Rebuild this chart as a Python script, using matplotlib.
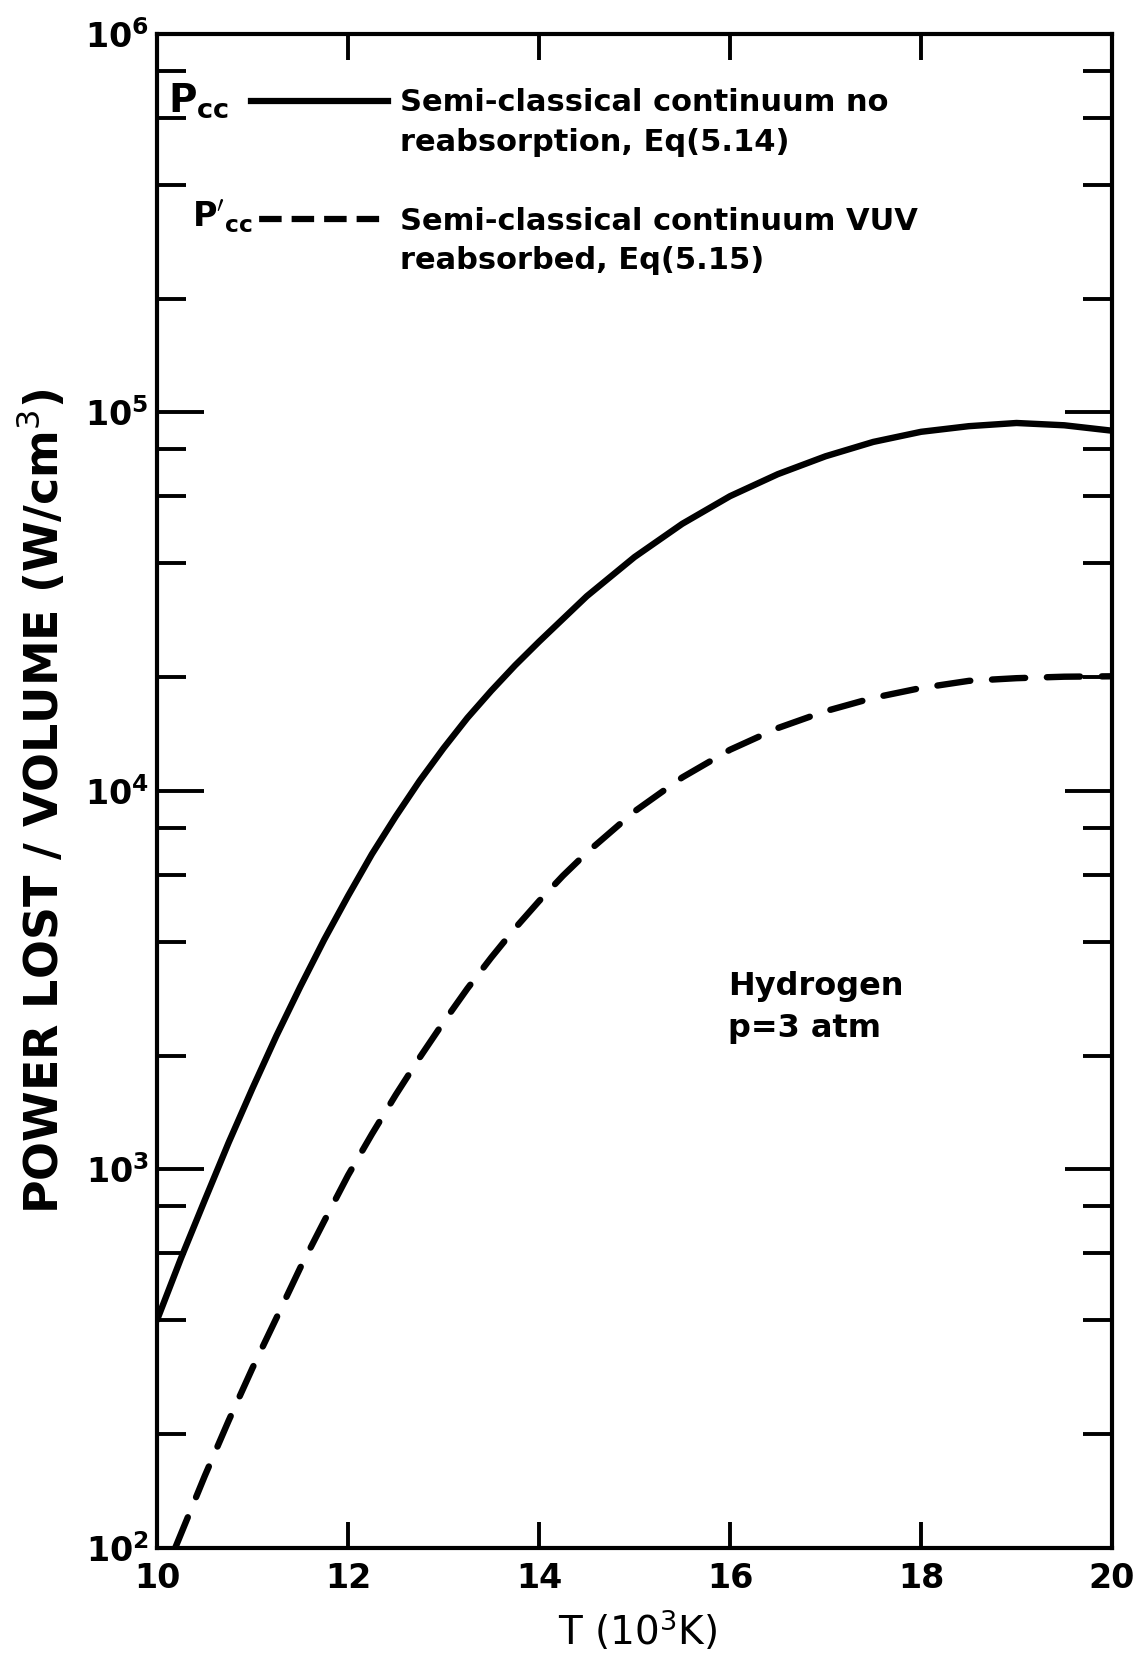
import math
import matplotlib
matplotlib.use("Agg")
import matplotlib.pyplot as plt
from matplotlib.lines import Line2D
from matplotlib.ticker import FixedLocator, LogLocator, FuncFormatter, NullFormatter

plt.rcParams['font.family'] = ['DejaVu Sans']
plt.rcParams['mathtext.fontset'] = 'dejavusans'

# temperature in 10^3 K
t_solid = [10, 10.25, 10.5, 10.75, 11, 11.25, 11.5, 11.75, 12, 12.25, 12.5, 12.75,
           13, 13.25, 13.5, 13.75, 14, 14.5, 15, 15.5, 16, 16.5, 17, 17.5,
           18, 18.5, 19, 19.5, 20]
p_cc = [400, 582, 830, 1178, 1640, 2255, 3040, 4045, 5280, 6810, 8570, 10640,
        12970, 15600, 18400, 21480, 24800, 32700, 41500, 50800, 60100, 68700,
        76600, 83600, 88900, 92000, 93800, 92500, 89500]

t_dash = [10.19, 10.5, 10.75, 11, 11.25, 11.5, 11.75, 12, 12.25, 12.5, 12.75,
          13, 13.25, 13.5, 13.75, 14, 14.25, 14.5, 15, 15.5, 16, 16.5, 17,
          17.5, 18, 18.5, 19, 19.5, 20]
p_cc_prime = [100, 155, 217, 299, 405, 550, 730, 965, 1240, 1575, 1975, 2449,
              3006, 3631, 4341, 5117, 5970, 6871, 8831, 10860, 12850, 14660,
              16250, 17620, 18710, 19540, 19860, 20040, 20090]

x_ticks = [10, 12, 14, 16, 18, 20]
legend_rows = ["Semi-classical continuum no", "reabsorption, Eq(5.14)", "",
               "Semi-classical continuum VUV", "reabsorbed, Eq(5.15)"]

fig = plt.figure(figsize=(11.33, 16.57), dpi=100)
ax = fig.add_axes([0.1386, 0.0658, 0.8429, 0.9137])

ax.plot(t_solid, p_cc, color='black', lw=4.6, solid_capstyle='round')
ax.plot(t_dash, p_cc_prime, color='black', lw=4.6, dashes=(5.2, 3.4),
        dash_capstyle='round')

ax.set_yscale('log')
ax.set_xlim(10, 20)
ax.set_ylim(1e2, 1e6)

for s in ax.spines.values():
    s.set_linewidth(3)

ax.xaxis.set_major_locator(FixedLocator(x_ticks))
ax.yaxis.set_major_locator(LogLocator(base=10))
ax.yaxis.set_minor_locator(LogLocator(base=10, subs=[2, 4, 6, 8]))
ax.yaxis.set_minor_formatter(NullFormatter())
ax.yaxis.set_major_formatter(FuncFormatter(lambda v, p: r'$\mathbf{10^{%d}}$' % round(math.log10(v))))

ax.tick_params(axis='x', which='major', direction='in', length=19, width=2.8,
               top=True, bottom=True, labelsize=24, pad=10)
ax.tick_params(axis='y', which='major', direction='in', length=34, width=2.8,
               left=True, right=True, labelsize=24, pad=6)
ax.tick_params(axis='y', which='minor', direction='in', length=21, width=2.8,
               left=True, right=True)
for lab in ax.get_xticklabels():
    lab.set_fontweight('bold')

ax.set_xlabel('T (10$^{3}$K)', fontsize=28)
ax.xaxis.set_label_coords(0.503, -0.040)
ax.set_ylabel('POWER LOST / VOLUME (W/cm$^{3}$)', fontsize=33, fontweight='bold')
ax.yaxis.set_label_coords(-0.093, 0.493)

# legend rows (solid, blank, spacer, dashed, blank)
h_solid = Line2D([], [], color='black', lw=4.5)
h_dash = Line2D([], [], color='black', lw=4.5, linestyle=(3.9, (3.6, 1.6)))
h_none = Line2D([], [], color='none')
leg = ax.legend([h_solid, h_none, h_none, h_dash, h_none], legend_rows,
                loc='upper left', bbox_to_anchor=(0.098, 0.964), frameon=False,
                handlelength=4.5, handletextpad=0.4, labelspacing=0.34,
                borderpad=0, borderaxespad=0,
                prop={'size': 22, 'weight': 'bold'})

ax.text(0.012, 0.956, r'$\mathbf{P_{cc}}$', transform=ax.transAxes,
        fontsize=28, ha='left', va='center')
ax.text(0.037, 0.879, r"$\mathbf{P'_{cc}}$", transform=ax.transAxes,
        fontsize=24, ha='left', va='center')

ax.text(0.598, 0.381, 'Hydrogen\np=3 atm', transform=ax.transAxes,
        fontsize=23, fontweight='bold', ha='left', va='top', linespacing=1.45)

fig.savefig('out.png', dpi=100)
